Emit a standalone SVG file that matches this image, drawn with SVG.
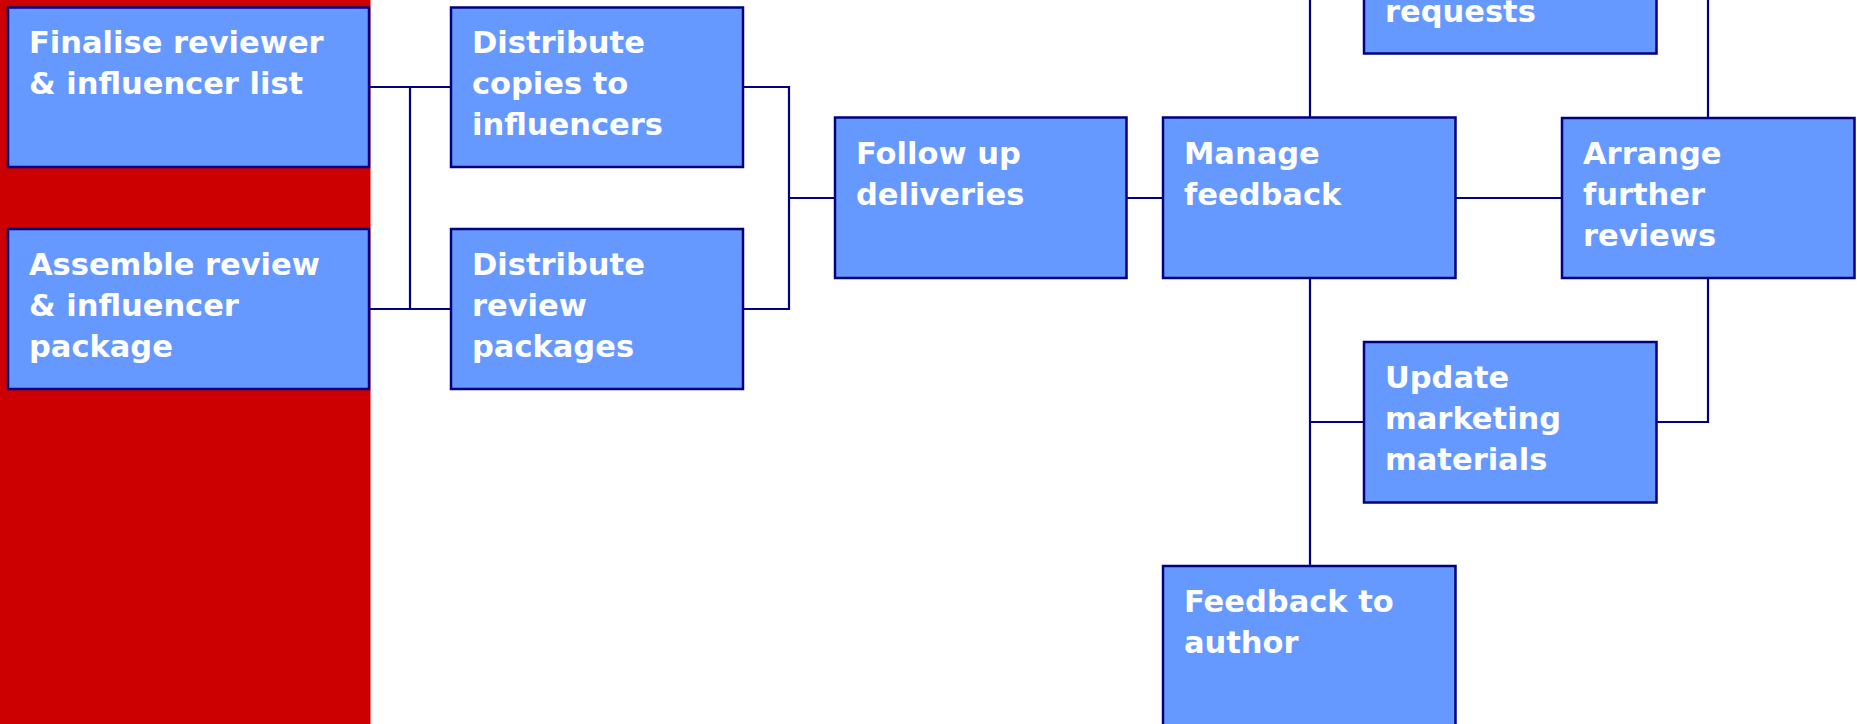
<svg xmlns="http://www.w3.org/2000/svg" width="1857" height="724" viewBox="0 0 1857 724">
<style>
.box{fill:#6699FF;stroke:#000080;stroke-width:2.5}
.lbl{font-family:"DejaVu Sans","Verdana",sans-serif;font-weight:bold;font-size:30.5px;fill:#FFFFFF}
.con{fill:none;stroke:#000080;stroke-width:2.2}
</style>
<rect x="0" y="0" width="370.5" height="724" fill="#CC0000"/>
<g id="connectors">
<polyline class="con" points="369,87 451,87"/>
<polyline class="con" points="369,309 451,309"/>
<polyline class="con" points="410,87 410,309"/>
<polyline class="con" points="743,87 789,87 789,309 743,309"/>
<polyline class="con" points="789,198 835,198"/>
<polyline class="con" points="1126,198 1163,198"/>
<polyline class="con" points="1455,198 1562,198"/>
<polyline class="con" points="1310,-5 1310,117"/>
<polyline class="con" points="1708,-5 1708,118"/>
<polyline class="con" points="1310,278 1310,566"/>
<polyline class="con" points="1310,422 1364,422"/>
<polyline class="con" points="1656,422 1708,422 1708,278"/>
</g>
<g id="n-finalise">
<rect class="box" x="8" y="7.5" width="361" height="159.5"/>
<text class="lbl" x="29" y="53"><tspan x="29">Finalise reviewer</tspan><tspan x="29" dy="41">&amp; influencer list</tspan></text>
</g>
<g id="n-assemble">
<rect class="box" x="8" y="229" width="361" height="160"/>
<text class="lbl" x="29" y="275"><tspan x="29">Assemble review</tspan><tspan x="29" dy="41">&amp; influencer</tspan><tspan x="29" dy="41">package</tspan></text>
</g>
<g id="n-copies">
<rect class="box" x="451" y="7.5" width="292" height="159.5"/>
<text class="lbl" x="472" y="53"><tspan x="472">Distribute</tspan><tspan x="472" dy="41">copies to</tspan><tspan x="472" dy="41">influencers</tspan></text>
</g>
<g id="n-packages">
<rect class="box" x="451" y="229" width="292" height="160"/>
<text class="lbl" x="472" y="275"><tspan x="472">Distribute</tspan><tspan x="472" dy="41">review</tspan><tspan x="472" dy="41">packages</tspan></text>
</g>
<g id="n-followup">
<rect class="box" x="835" y="117.5" width="291.5" height="160.5"/>
<text class="lbl" x="856" y="164"><tspan x="856">Follow up</tspan><tspan x="856" dy="41">deliveries</tspan></text>
</g>
<g id="n-manage">
<rect class="box" x="1163" y="117.5" width="292.5" height="160.5"/>
<text class="lbl" x="1184" y="164"><tspan x="1184">Manage</tspan><tspan x="1184" dy="41">feedback</tspan></text>
</g>
<g id="n-arrange">
<rect class="box" x="1562" y="118" width="292.5" height="160"/>
<text class="lbl" x="1583" y="164"><tspan x="1583">Arrange</tspan><tspan x="1583" dy="41">further</tspan><tspan x="1583" dy="41">reviews</tspan></text>
</g>
<g id="n-requests">
<rect class="box" x="1364" y="-107" width="292.5" height="160.5"/>
<text class="lbl" x="1385" y="22">requests</text>
</g>
<g id="n-update">
<rect class="box" x="1364" y="342" width="292.5" height="160.5"/>
<text class="lbl" x="1385" y="388"><tspan x="1385">Update</tspan><tspan x="1385" dy="41">marketing</tspan><tspan x="1385" dy="41">materials</tspan></text>
</g>
<g id="n-author">
<rect class="box" x="1163" y="566" width="292.5" height="170"/>
<text class="lbl" x="1184" y="612"><tspan x="1184">Feedback to</tspan><tspan x="1184" dy="41">author</tspan></text>
</g>
</svg>
